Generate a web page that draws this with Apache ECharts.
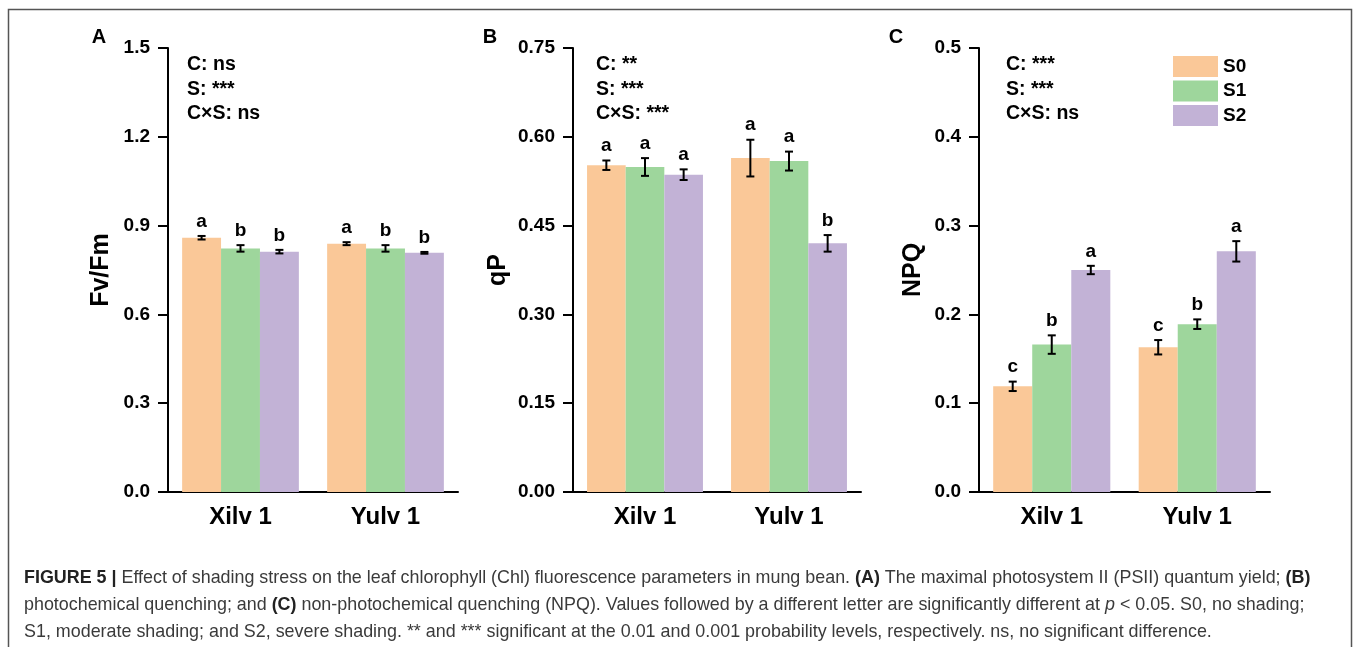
<!DOCTYPE html>
<html>
<head>
<meta charset="utf-8">
<script src="https://cdn.jsdelivr.net/npm/echarts@6/dist/echarts.min.js"></script>
<style>
  html, body { margin: 0; padding: 0; background: #fff; }
  #chart { width: 1358px; height: 647px; }
</style>
</head>
<body>
<div id="chart"></div>
<script>
// Cultivars and shading levels
const categories = ['Xilv 1', 'Yulv 1'];
const levels = ['S0', 'S1', 'S2'];

// (A) Fv/Fm: means, standard errors, significance letters
const fvfmS0 = [0.859, 0.839];
const fvfmS1 = [0.823, 0.823];
const fvfmS2 = [0.812, 0.808];
const fvfmErrS0 = [0.006, 0.005];
const fvfmErrS1 = [0.011, 0.011];
const fvfmErrS2 = [0.006, 0.003];
const fvfmLetS0 = ['a', 'a'];
const fvfmLetS1 = ['b', 'b'];
const fvfmLetS2 = ['b', 'b'];
const fvfmTicks = [0, 1.5, 0.3];

// (B) qP
const qpS0 = [0.552, 0.564];
const qpS1 = [0.549, 0.559];
const qpS2 = [0.536, 0.420];
const qpErrS0 = [0.008, 0.031];
const qpErrS1 = [0.015, 0.016];
const qpErrS2 = [0.009, 0.014];
const qpLetS0 = ['a', 'a'];
const qpLetS1 = ['a', 'a'];
const qpLetS2 = ['a', 'b'];
const qpTicks = [0, 0.75, 0.15];

// (C) NPQ
const npqS0 = [0.119, 0.163];
const npqS1 = [0.166, 0.189];
const npqS2 = [0.250, 0.271];
const npqErrS0 = [0.0053, 0.0081];
const npqErrS1 = [0.0104, 0.0054];
const npqErrS2 = [0.0047, 0.0115];
const npqLetS0 = ['c', 'c'];
const npqLetS1 = ['b', 'b'];
const npqLetS2 = ['a', 'a'];
const npqTicks = [0, 0.5, 0.1];

// Two-way ANOVA summaries (cultivar, shading, interaction)
const anovaA = ['C: ns', 'S: ***', 'C\u00d7S: ns'];
const anovaB = ['C: **', 'S: ***', 'C\u00d7S: ***'];
const anovaC = ['C: ***', 'S: ***', 'C\u00d7S: ns'];

const FONT = '"Liberation Sans", Arial, Helvetica, sans-serif';
const colors = ['#FAC898', '#9ED69C', '#C2B2D6'];
const CAT_GAP = 0.195;

const panels = [
  { name: 'Fv/Fm', means: [fvfmS0, fvfmS1, fvfmS2], errs: [fvfmErrS0, fvfmErrS1, fvfmErrS2],
    lets: [fvfmLetS0, fvfmLetS1, fvfmLetS2], ticks: fvfmTicks, dec: 1,
    left: 168, width: 290, nameGap: 54, tag: 'A', tagX: 99, anova: anovaA, annX: 187 },
  { name: 'qP', means: [qpS0, qpS1, qpS2], errs: [qpErrS0, qpErrS1, qpErrS2],
    lets: [qpLetS0, qpLetS1, qpLetS2], ticks: qpTicks, dec: 2,
    left: 573, width: 288, nameGap: 62, tag: 'B', tagX: 490, anova: anovaB, annX: 596 },
  { name: 'NPQ', means: [npqS0, npqS1, npqS2], errs: [npqErrS0, npqErrS1, npqErrS2],
    lets: [npqLetS0, npqLetS1, npqLetS2], ticks: npqTicks, dec: 1,
    left: 979, width: 291, nameGap: 53, tag: 'C', tagX: 896, anova: anovaC, annX: 1006 }
];

const TOP = 48, HEIGHT = 444;

const grids = [], xAxes = [], yAxes = [], series = [], graphics = [];

panels.forEach((p, k) => {
  grids.push({ left: p.left, top: TOP, width: p.width, height: HEIGHT, containLabel: false });
  xAxes.push({
    type: 'category', gridIndex: k, data: categories,
    axisLine: { lineStyle: { color: '#000', width: 2 } },
    axisTick: { alignWithLabel: true, length: 10, lineStyle: { color: '#000', width: 2 } },
    axisLabel: { color: '#000', fontFamily: FONT, fontWeight: 'bold', fontSize: 24, margin: 13 }
  });
  yAxes.push({
    type: 'value', gridIndex: k, min: p.ticks[0], max: p.ticks[1], interval: p.ticks[2],
    name: p.name, nameLocation: 'middle', nameRotate: 90, nameGap: p.nameGap,
    nameTextStyle: { color: '#000', fontFamily: FONT, fontWeight: 'bold', fontSize: 25 },
    axisLine: { show: true, lineStyle: { color: '#000', width: 2 } },
    axisTick: { show: true, length: 10, lineStyle: { color: '#000', width: 2 } },
    splitLine: { show: false },
    axisLabel: {
      color: '#000', fontFamily: FONT, fontWeight: 'bold', fontSize: 19, margin: 18,
      formatter: v => v.toFixed(p.dec)
    }
  });

  levels.forEach((lv, s) => {
    series.push({
      name: lv, type: 'bar', xAxisIndex: k, yAxisIndex: k,
      data: p.means[s], barGap: '0%', barCategoryGap: (CAT_GAP * 100) + '%',
      itemStyle: { color: colors[s] }, silent: true
    });
    const letters = p.lets[s];
    series.push({
      type: 'custom', xAxisIndex: k, yAxisIndex: k, z: 5, silent: true,
      data: p.means[s].map((m, i) => [i, m, p.errs[s][i]]),
      renderItem: (params, api) => {
        const c = api.value(0), m = api.value(1), e = api.value(2);
        const band = api.size([1, 0])[0];
        const bw = band * (1 - CAT_GAP) / 3;
        const cx = api.coord([c, m])[0] + (s - 1) * bw;
        const yt = api.coord([c, m + e])[1];
        const yb = api.coord([c, m - e])[1];
        const cap = 4;
        const ls = { stroke: '#000', lineWidth: 2 };
        return {
          type: 'group',
          children: [
            { type: 'line', shape: { x1: cx, y1: yt, x2: cx, y2: yb }, style: ls },
            { type: 'line', shape: { x1: cx - cap, y1: yt, x2: cx + cap, y2: yt }, style: ls },
            { type: 'line', shape: { x1: cx - cap, y1: yb, x2: cx + cap, y2: yb }, style: ls },
            { type: 'text', x: cx, y: yt - 5,
              style: { text: letters[params.dataIndex], align: 'center', verticalAlign: 'bottom',
                       fontFamily: FONT, fontWeight: 'bold', fontSize: 19, fill: '#000' } }
          ]
        };
      }
    });
  });

  // panel tag
  graphics.push({ type: 'text', x: p.tagX, y: 37,
    style: { text: p.tag, align: 'center', verticalAlign: 'middle',
             fontFamily: FONT, fontWeight: 'bold', fontSize: 20, fill: '#000' } });
  // ANOVA lines
  p.anova.forEach((t, j) => {
    graphics.push({ type: 'text', x: p.annX, y: 65 + j * 24.5,
      style: { text: t, align: 'left', verticalAlign: 'middle',
               fontFamily: FONT, fontWeight: 'bold', fontSize: 19.5, fill: '#000' } });
  });
});

// outer frame
graphics.push({ type: 'rect', shape: { x: 8.5, y: 9.5, width: 1343, height: 660 },
  style: { fill: 'none', stroke: '#555', lineWidth: 1.5 }, z: -1 });

// caption
const CAP_SIZE = 17.9;
const capRich = {
  b: { fontFamily: FONT, fontWeight: 'bold', fontSize: CAP_SIZE, fill: '#222' },
  i: { fontFamily: FONT, fontStyle: 'italic', fontSize: CAP_SIZE, fill: '#3a3a3a' }
};
const captionLines = [
  '{b|FIGURE 5 |} Effect of shading stress on the leaf chlorophyll (Chl) fluorescence parameters in mung bean. {b|(A)} The maximal photosystem II (PSII) quantum yield; {b|(B)}',
  'photochemical quenching; and {b|(C)} non-photochemical quenching (NPQ). Values followed by a different letter are significantly different at {i|p} < 0.05. S0, no shading;',
  'S1, moderate shading; and S2, severe shading. ** and *** significant at the 0.01 and 0.001 probability levels, respectively. ns, no significant difference.'
];
captionLines.forEach((t, j) => {
  graphics.push({ type: 'text', x: 24, y: 578 + j * 27,
    style: { text: t, rich: capRich, align: 'left', verticalAlign: 'middle',
             fontFamily: FONT, fontSize: CAP_SIZE, fill: '#3a3a3a' } });
});

const chart = echarts.init(document.getElementById('chart'), null, { renderer: 'canvas' });
chart.setOption({
  animation: false,
  backgroundColor: '#fff',
  grid: grids,
  xAxis: xAxes,
  yAxis: yAxes,
  legend: {
    data: levels, orient: 'vertical', left: 1173, top: 56, padding: 0,
    icon: 'rect', itemWidth: 45, itemHeight: 21, itemGap: 3.5,
    textStyle: { color: '#000', fontFamily: FONT, fontWeight: 'bold', fontSize: 19 },
    selectedMode: false
  },
  series: series,
  graphic: graphics
});
</script>
</body>
</html>
